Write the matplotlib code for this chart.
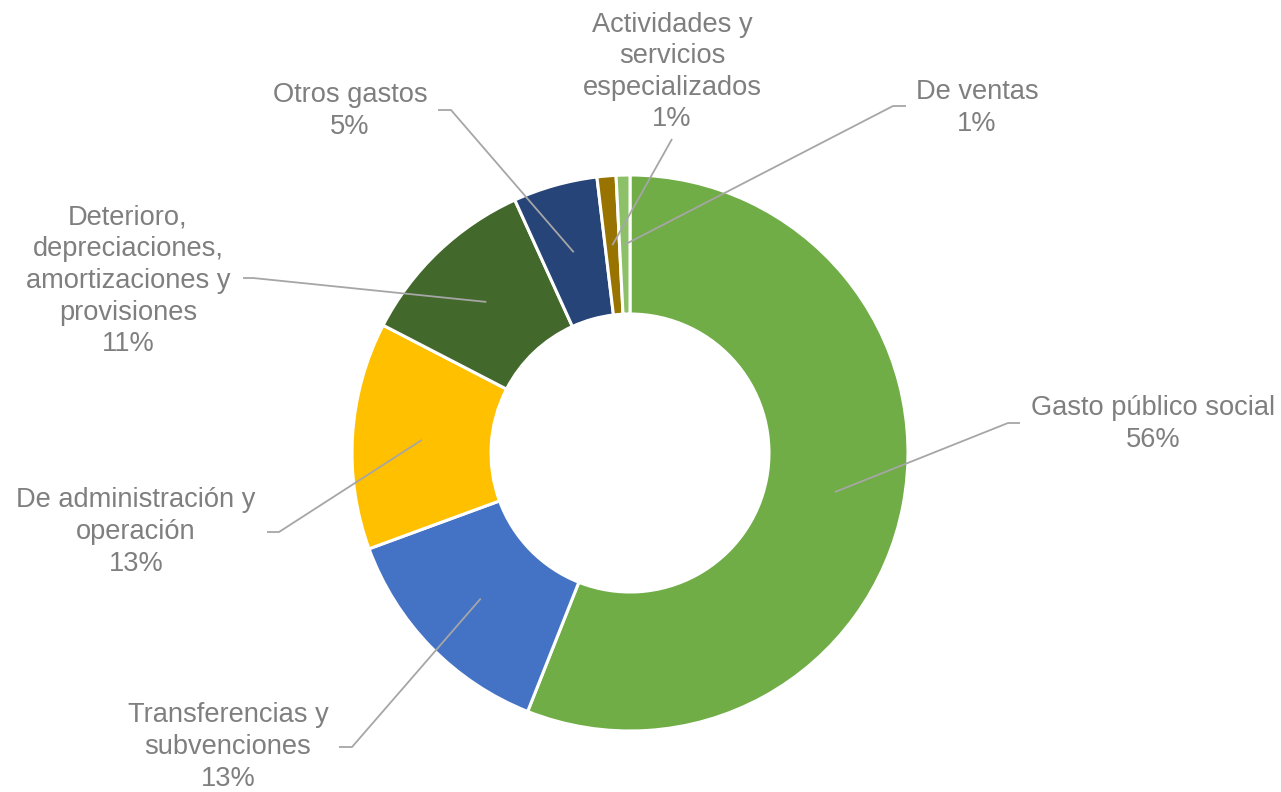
import numpy as np
import matplotlib
matplotlib.use("Agg")
import matplotlib.pyplot as plt

categories = [
    "Gasto público social",
    "Transferencias y\nsubvenciones",
    "De administración y\noperación",
    "Deterioro,\ndepreciaciones,\namortizaciones y\nprovisiones",
    "Otros gastos",
    "Actividades y\nservicios\nespecializados",
    "De ventas",
]
values = [56.0, 13.4, 13.2, 10.6, 4.9, 1.1, 0.8]
colors = ["#70AD47", "#4472C4", "#FFC000", "#43682B", "#264478", "#997300", "#8CC168"]

# label layout in pixel coords (y measured from top): text center, elbow, line end
label_pos = [(1153, 424), (228, 747), (136, 532), (128, 281), (350, 111), (672, 72), (977, 108)]
elbows = [(1008, 423), (352, 747), (279, 532), (253, 278), (451, 110), (672, 139), (893, 106)]
ends = [(1020, 423), (339, 747), (267, 532), (243, 278), (438, 110), (672, 139), (906, 106)]

W, H = 1281, 792
fig = plt.figure(figsize=(W / 100, H / 100), dpi=100)
ax = fig.add_axes([0, 0, 1, 1])
ax.set_xlim(0, W)
ax.set_ylim(0, H)
ax.set_aspect("equal")
ax.axis("off")

cx, cy_top, R = 630, 453, 278
cy = H - cy_top
wedges, _ = ax.pie(values, colors=colors, startangle=90, counterclock=False,
                   center=(cx, cy), radius=R, frame=True,
                   wedgeprops=dict(width=R * 0.5, edgecolor="white", linewidth=2.2))
ax.set_xlim(0, W)
ax.set_ylim(0, H)
ax.axis("off")

total = sum(values)
cum = 0.0
text_color = "#7F7F7F"
line_color = "#A6A6A6"
for i, (cat, v) in enumerate(zip(categories, values)):
    mid = (cum + v / 2) / total * 2 * np.pi
    cum += v
    rm = R * 0.75
    sx = cx + rm * np.sin(mid)
    sy = cy + rm * np.cos(mid)
    ex, ey = elbows[i]
    fx, fy = ends[i]
    ax.plot([sx, ex, fx], [sy, H - ey, H - fy], color=line_color, lw=1.3,
            solid_capstyle="butt", zorder=5)
    pct = f"{round(v / total * 100):.0f}%"
    tx, ty = label_pos[i]
    ax.text(tx, H - ty, f"{cat}\n{pct}", ha="center", va="center",
            fontsize=19.6, color=text_color, family=["Liberation Sans", "DejaVu Sans"],
            linespacing=1.28, multialignment="center")

fig.savefig("out.png", dpi=100, facecolor="white")
